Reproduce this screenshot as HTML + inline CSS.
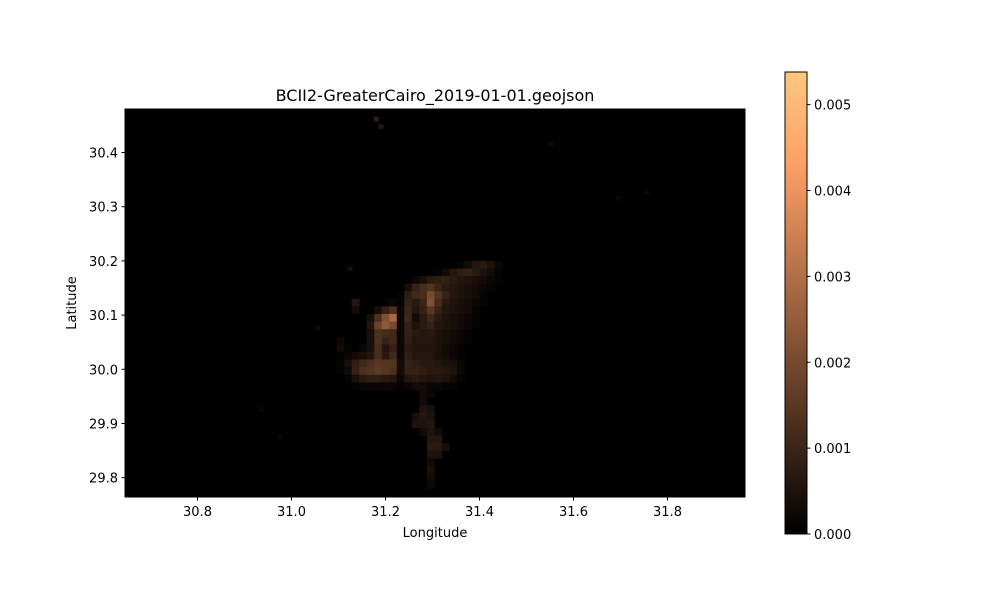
<!DOCTYPE html>
<html><head><meta charset="utf-8"><style>
body{margin:0;background:#fff;}
svg{display:block;font-family:"DejaVu Sans","Liberation Sans",sans-serif;}
</style></head><body>
<svg id="chart" width="1000" height="600" viewBox="0 0 1000 600">
<defs><linearGradient id="copper" x1="0" y1="1" x2="0" y2="0">
<stop offset="0" stop-color="rgb(0,0,0)"/><stop offset="0.8" stop-color="rgb(255,159,101)"/><stop offset="1" stop-color="rgb(255,199,127)"/>
</linearGradient></defs>
<rect x="125" y="109" width="620" height="388" fill="#000"/>
<g id="cells"></g>
<rect x="125" y="109" width="620" height="388" fill="none" stroke="#000" stroke-width="1"/>
<g id="axes"></g>
<text x="435" y="101" font-size="16" text-anchor="middle">BCII2-GreaterCairo_2019-01-01.geojson</text>
<text x="435" y="537" font-size="13" text-anchor="middle">Longitude</text>
<text x="76" y="303" font-size="13" text-anchor="middle" transform="rotate(-90 76 303)">Latitude</text>
<rect x="785" y="72" width="22" height="462" fill="url(#copper)" stroke="#000" stroke-width="1"/>
<g id="cbticks"></g>
</svg>
<script>
const xTicks=[30.8,31.0,31.2,31.4,31.6,31.8];
const yTicks=[29.8,29.9,30.0,30.1,30.2,30.3,30.4];
const cbTicks=[0,0.001,0.002,0.003,0.004,0.005];
const vmax=0.00538;
const gridLon0=31.08, gridLat0=30.20, dLon=0.016, dLat=0.014;
// values in units of 1e-4
const gridRows=[
[0,0,0,0,0,0,0,0,0,0,0,0,0,0,0,0,0,1,3,6,7,5,2,0,0],
[0,0,0,0,0,0,0,0,0,0,0,0,0,0,1,3,6,8,9,7,5,3,1,0,0],
[0,0,0,0,0,0,0,0,0,0,0,2,4,7,8,9,7,6,5,4,3,2,1,0,0],
[0,0,0,0,0,0,0,0,0,0,4,9,12,14,10,7,6,5,4,3,2,1,0,0,0],
[0,0,0,0,0,0,0,0,0,1,8,11,12,20,14,9,6,5,4,3,1,0,0,0,0],
[0,0,0,6,0,0,0,1,2,1,9,7,10,22,12,7,5,4,3,2,1,0,0,0,0],
[0,0,0,3,0,0,4,9,13,2,10,6,9,15,9,6,5,4,3,1,0,0,0,0,0],
[0,0,0,0,0,4,13,22,28,2,11,3,7,11,7,5,4,3,2,1,0,0,0,0,0],
[0,0,0,0,0,6,18,24,20,2,9,5,7,9,6,5,4,3,2,1,0,0,0,0,0],
[0,0,0,0,0,4,13,12,11,2,9,7,6,7,5,4,3,2,1,0,0,0,0,0,0],
[0,2,0,0,0,4,13,9,11,2,8,6,6,6,5,4,3,2,1,0,0,0,0,0,0],
[0,3,1,0,2,4,12,6,9,2,7,6,6,6,5,3,2,1,0,0,0,0,0,0,0],
[0,1,2,3,4,6,12,7,11,2,8,6,6,6,4,3,2,1,0,0,0,0,0,0,0],
[0,1,4,8,11,13,15,14,14,3,9,8,7,7,6,5,4,2,0,0,0,0,0,0,0],
[0,1,3,9,13,14,16,15,13,3,9,9,8,7,7,6,5,2,0,0,0,0,0,0,0],
[0,0,1,4,7,8,8,7,6,2,6,7,6,5,6,5,3,1,0,0,0,0,0,0,0],
[0,0,0,1,2,2,2,2,2,1,2,3,3,2,2,1,1,0,0,0,0,0,0,0,0],
[0,0,0,0,0,0,0,0,0,0,0,0,3,2,0,0,0,0,0,0,0,0,0,0,0],
[0,0,0,0,0,0,0,0,0,0,0,0,3,0,0,0,0,0,0,0,0,0,0,0,0],
[0,0,0,0,0,0,0,0,0,0,0,0,5,4,0,0,0,0,0,0,0,0,0,0,0],
[0,0,0,0,0,0,0,0,0,0,0,4,6,5,0,0,0,0,0,0,0,0,0,0,0],
[0,0,0,0,0,0,0,0,0,0,0,5,5,6,0,0,0,0,0,0,0,0,0,0,0],
[0,0,0,0,0,0,0,0,0,0,0,0,3,5,3,0,0,0,0,0,0,0,0,0,0],
[0,0,0,0,0,0,0,0,0,0,0,0,0,6,6,0,0,0,0,0,0,0,0,0,0],
[0,0,0,0,0,0,0,0,0,0,0,0,0,7,7,4,0,0,0,0,0,0,0,0,0],
[0,0,0,0,0,0,0,0,0,0,0,0,0,5,5,0,0,0,0,0,0,0,0,0,0],
[0,0,0,0,0,0,0,0,0,0,0,0,0,3,0,0,0,0,0,0,0,0,0,0,0],
[0,0,0,0,0,0,0,0,0,0,0,0,0,4,0,0,0,0,0,0,0,0,0,0,0],
[0,0,0,0,0,0,0,0,0,0,0,0,0,3,0,0,0,0,0,0,0,0,0,0,0],
[0,0,0,0,0,0,0,0,0,0,0,0,0,2,0,0,0,0,0,0,0,0,0,0,0]
];
const dotLon=[31.175,31.185,31.546,31.69,31.75,31.12,30.93,30.97,31.05];
const dotLat=[30.466,30.452,30.42,30.32,30.33,30.19,29.93,29.88,30.08];
const dotVal=[8,6,3,2,2,4,2,2,3];

const xs=lon=>197.5+(lon-30.8)*470;
const ys=lat=>369.3-(lat-30.0)*542;
const cbY=v=>534-v/vmax*462;
function copper(v){const t=Math.min(1,Math.max(0,v*1e-4/vmax));
return `rgb(${Math.round(255*Math.min(1,1.25*t))},${Math.round(255*0.7812*t)},${Math.round(255*0.4975*t)})`;}
const NS='http://www.w3.org/2000/svg';
const cells=document.getElementById('cells');
function cell(lon,lat,w,h,v){
 const r=document.createElementNS(NS,'rect');
 const x0=xs(lon), y0=ys(lat);
 r.setAttribute('x',x0);r.setAttribute('y',y0);
 r.setAttribute('width',xs(lon+w)-x0+0.4);r.setAttribute('height',ys(lat-h)-y0+0.4);
 r.setAttribute('fill',copper(v));
 
 
 cells.appendChild(r);
}
gridRows.forEach((row,j)=>row.forEach((v,i)=>{if(v>0)cell(gridLon0+i*dLon,gridLat0-j*dLat,dLon,dLat,v);}));
dotVal.forEach((v,k)=>cell(dotLon[k],dotLat[k],0.01,0.008,v));

const ax=document.getElementById('axes');
function add(parent,tag,attrs,txt){const e=document.createElementNS(NS,tag);for(const k in attrs)e.setAttribute(k,attrs[k]);if(txt!==undefined)e.textContent=txt;parent.appendChild(e);return e;}
xTicks.forEach(t=>{const x=xs(t);
 const l=add(ax,'line',{x1:x,x2:x,y1:497,y2:500.5,stroke:'#000'});
 
 
 const tx=add(ax,'text',{x:x,y:516,'font-size':13,'text-anchor':'middle'},t.toFixed(1));
 
 
});
yTicks.forEach(t=>{const y=ys(t);
 const l=add(ax,'line',{x1:121.5,x2:125,y1:y,y2:y,stroke:'#000'});
 
 
 const tx=add(ax,'text',{x:118,y:y+5,'font-size':13,'text-anchor':'end'},t.toFixed(1));
 
 
});
const cb=document.getElementById('cbticks');
cbTicks.forEach(t=>{const y=cbY(t);
 const l=add(cb,'line',{x1:807,x2:810.5,y1:y,y2:y,stroke:'#000'});
 
 
 const tx=add(cb,'text',{x:814,y:y+5,'font-size':13},t.toFixed(3));
 
 
});
</script>
</body></html>
